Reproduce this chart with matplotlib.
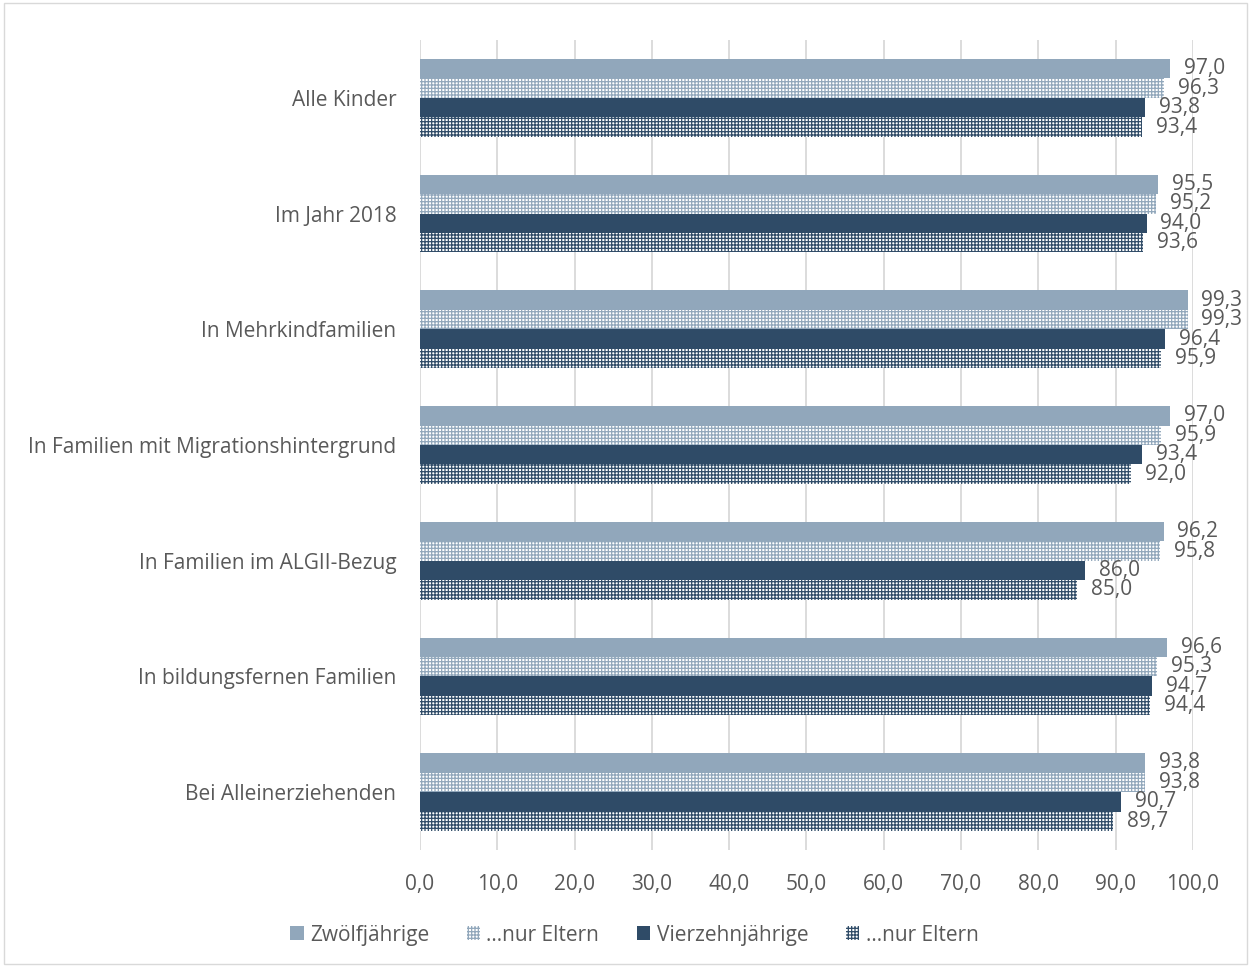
import numpy as np
import matplotlib.pyplot as plt
from matplotlib.patches import Rectangle

# categories, top to bottom
categories = ["Alle Kinder", "Im Jahr 2018", "In Mehrkindfamilien",
              "In Familien mit Migrationshintergrund", "In Familien im ALGII-Bezug",
              "In bildungsfernen Familien", "Bei Alleinerziehenden"]

series_names = ["Zwölfjährige", "…nur Eltern", "Vierzehnjährige", "…nur Eltern"]

zwoelf = [97.0, 95.5, 99.3, 97.0, 96.2, 96.6, 93.8]
zwoelf_eltern = [96.3, 95.2, 99.3, 95.9, 95.8, 95.3, 93.8]
vierzehn = [93.8, 94.0, 96.4, 93.4, 86.0, 94.7, 90.7]
vierzehn_eltern = [93.4, 93.6, 95.9, 92.0, 85.0, 94.4, 89.7]

light = "#91a7bb"
dark = "#2f4b67"
text_col = "#595959"

plt.rcParams['font.family'] = ['Open Sans', 'DejaVu Sans']
plt.rcParams['hatch.linewidth'] = 0.9

fig = plt.figure(figsize=(12.51, 9.67), dpi=100)
ax = fig.add_axes([0.3357, 0.121, 0.9536 - 0.3357, 0.9586 - 0.121])

y = np.arange(len(categories))
h = 0.168
fs = 15
series = [zwoelf, zwoelf_eltern, vierzehn, vierzehn_eltern]
styles = [
    dict(color=light),
    dict(facecolor="white", edgecolor=light, hatch="+++++", linewidth=0),
    dict(color=dark),
    dict(facecolor="white", edgecolor=dark, hatch="+++++", linewidth=0),
]

for i, (vals, st) in enumerate(zip(series, styles)):
    pos = y + (i - 1.5) * h
    ax.barh(pos, vals, height=h, label=series_names[i], zorder=3, **st)
    for p, v in zip(pos, vals):
        ax.text(v + 1.8, p, f"{v:.1f}".replace(".", ","), va="center", ha="left",
                fontsize=fs, color=text_col, zorder=4)

ax.set_ylim(len(categories) - 0.5, -0.5)
ax.set_xlim(0, 100)
ax.set_xticks(np.arange(0, 101, 10))
ax.set_xticklabels([f"{t:.1f}".replace(".", ",") for t in np.arange(0, 101, 10)])
ax.set_yticks(y)
ax.set_yticklabels(categories)
ax.tick_params(axis="both", length=0, labelsize=fs, colors=text_col)
ax.tick_params(axis="y", pad=17)
ax.tick_params(axis="x", pad=17)
ax.grid(axis="x", color="#d9d9d9", linewidth=1.3, zorder=0)
for s in ax.spines.values():
    s.set_visible(False)

leg = fig.legend(loc="center", bbox_to_anchor=(0.507, 0.033), ncol=4, frameon=False,
                 fontsize=fs, handlelength=0.65, handleheight=0.65, handletextpad=0.3,
                 columnspacing=1.8, labelcolor=text_col)

fig.patches.append(Rectangle((0.003, 0.003), 0.994, 0.994, transform=fig.transFigure,
                             fill=False, edgecolor="#d9d9d9", linewidth=1))

fig.savefig("out.png", dpi=100, facecolor="white")
